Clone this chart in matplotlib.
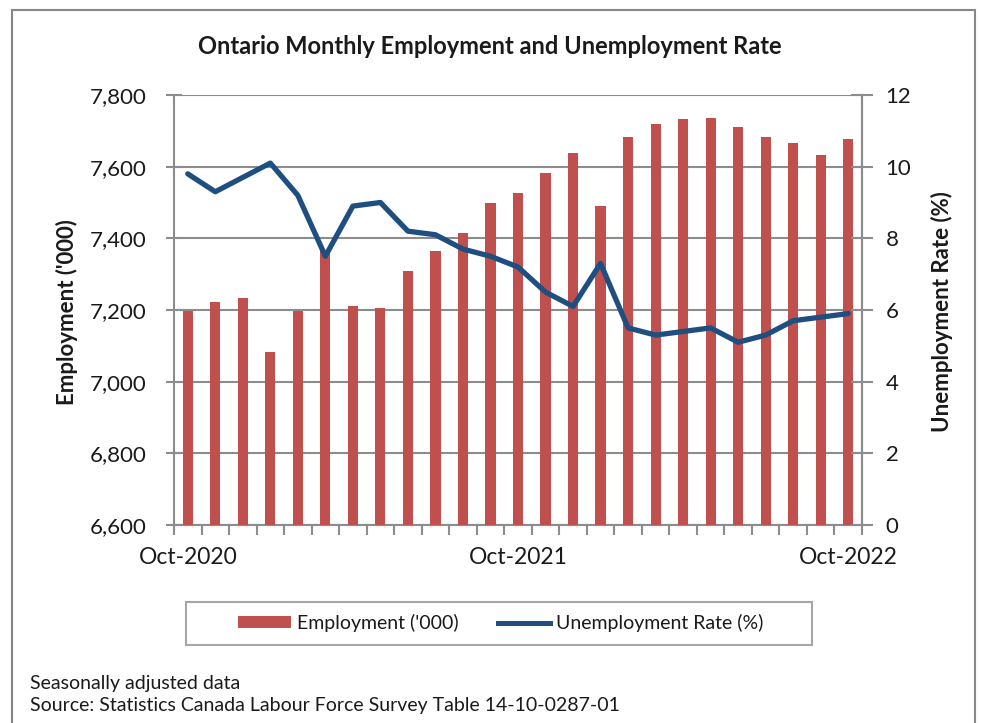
import matplotlib
matplotlib.use("Agg")
import matplotlib.pyplot as plt
from matplotlib.patches import Rectangle, Patch
from matplotlib.lines import Line2D
import numpy as np

months = ["Oct-2020", "Nov-2020", "Dec-2020", "Jan-2021", "Feb-2021", "Mar-2021",
          "Apr-2021", "May-2021", "Jun-2021", "Jul-2021", "Aug-2021", "Sep-2021",
          "Oct-2021", "Nov-2021", "Dec-2021", "Jan-2022", "Feb-2022", "Mar-2022",
          "Apr-2022", "May-2022", "Jun-2022", "Jul-2022", "Aug-2022", "Sep-2022",
          "Oct-2022"]
employment = [7198, 7222, 7233, 7082, 7198, 7365, 7211, 7205, 7308, 7365, 7415, 7498,
              7526, 7583, 7637, 7490, 7683, 7719, 7733, 7737, 7712, 7683, 7666, 7633,
              7676]
unemp_rate = [9.8, 9.3, 9.7, 10.1, 9.2, 7.5, 8.9, 9.0, 8.2, 8.1, 7.7, 7.5,
              7.2, 6.5, 6.1, 7.3, 5.5, 5.3, 5.4, 5.5, 5.1, 5.3, 5.7, 5.8, 5.9]
left_ticks = [6600, 6800, 7000, 7200, 7400, 7600, 7800]
right_ticks = [0, 2, 4, 6, 8, 10, 12]
shown_labels = ["Oct-2020", "Oct-2021", "Oct-2022"]

FONT = "Lato"
plt.rcParams['font.family'] = [FONT, 'DejaVu Sans']
BAR = "#C0504D"
LINE = "#1F4E80"
GRID = "#8C8C8C"
TXT = "#1a1a1a"

W, H = 981, 723
fig = plt.figure(figsize=(W / 100, H / 100), dpi=100)
fig.patch.set_facecolor("white")

def fx(px):
    return px / W

def fy(py):
    return 1 - py / H

# outer frame
fig.add_artist(Rectangle((fx(12), -0.05), fx(975 - 12), 1.05 - 10 / H,
                         transform=fig.transFigure, fill=False,
                         edgecolor="#888888", linewidth=1.5))

ax = fig.add_axes([fx(174), fy(525), fx(862 - 174), (525 - 95) / H])
x = np.arange(len(months))
ax.bar(x, employment, width=0.37, color=BAR, zorder=3)
ax.set_ylim(6600, 7800)
ax.set_xlim(-0.5, len(months) - 0.5)
ax.set_yticks(left_ticks)
ax.set_yticklabels([f"{v:,}" for v in left_ticks])
ax.grid(axis="y", color=GRID, linewidth=1.5, zorder=0)
ax.set_axisbelow(True)

ax.set_xticks(np.arange(len(months) + 1) - 0.5)
ax.set_xticklabels([])
ax.set_xticks([months.index(m) for m in shown_labels], minor=True)
ax.set_xticklabels(shown_labels, minor=True)
ax.tick_params(axis="x", which="major", length=7, color=GRID, width=1.5, direction="out")
ax.tick_params(axis="x", which="minor", length=0, pad=16, labelsize=16.5, labelcolor=TXT)
ax.tick_params(axis="y", length=12, direction="inout", color=GRID, width=1.5,
               labelsize=16, labelcolor=TXT, pad=14)

ax.spines["top"].set_visible(False)
for s in ["left", "right", "bottom"]:
    ax.spines[s].set_color(GRID)
    ax.spines[s].set_linewidth(1.5)

ax2 = ax.twinx()
ax2.plot(x, unemp_rate, color=LINE, linewidth=3.8, solid_capstyle="round",
         solid_joinstyle="round", zorder=4)
ax2.set_ylim(0, 12)
ax2.set_yticks(right_ticks)
ax2.tick_params(axis="y", length=16, direction="inout", color=GRID, width=1.5,
                labelsize=16, labelcolor=TXT, pad=9)
for s in ["top", "left", "bottom"]:
    ax2.spines[s].set_visible(False)
ax2.spines["right"].set_color(GRID)
ax2.spines["right"].set_linewidth(1.5)

fig.text(fx(67), fy(312), "Employment ('000)", rotation=90, ha="center", va="center",
         fontsize=16, fontweight="bold", color=TXT)
fig.text(fx(942), fy(312), "Unemployment Rate (%)", rotation=90, ha="center", va="center",
         fontsize=16, fontweight="bold", color=TXT)

fig.text(fx(490), fy(47), "Ontario Monthly Employment and Unemployment Rate",
         ha="center", va="center", fontsize=17, fontweight="bold", color=TXT)

# legend
fig.add_artist(Rectangle((fx(186), fy(645)), fx(812 - 186), (645 - 602) / H,
                         transform=fig.transFigure, fill=False,
                         edgecolor="#A6A6A6", linewidth=1.5))
handles = [Patch(facecolor=BAR, edgecolor="none"),
           Line2D([0], [0], color=LINE, linewidth=3.6)]
leg = fig.legend(handles, ["Employment ('000)", "Unemployment Rate (%)"],
                 loc="center", bbox_to_anchor=(fx(501), fy(623)), ncol=2,
                 fontsize=14, frameon=False,
                 handlelength=2.7, handleheight=0.55, columnspacing=2.0,
                 handletextpad=0.33, borderpad=0.0, labelcolor=TXT)

fig.text(fx(30), fy(683), "Seasonally adjusted data", ha="left", va="center",
         fontsize=14, color=TXT)
fig.text(fx(30), fy(706), "Source: Statistics Canada Labour Force Survey Table 14-10-0287-01",
         ha="left", va="center", fontsize=14, color=TXT)

fig.savefig("out.png", dpi=100, facecolor="white")
